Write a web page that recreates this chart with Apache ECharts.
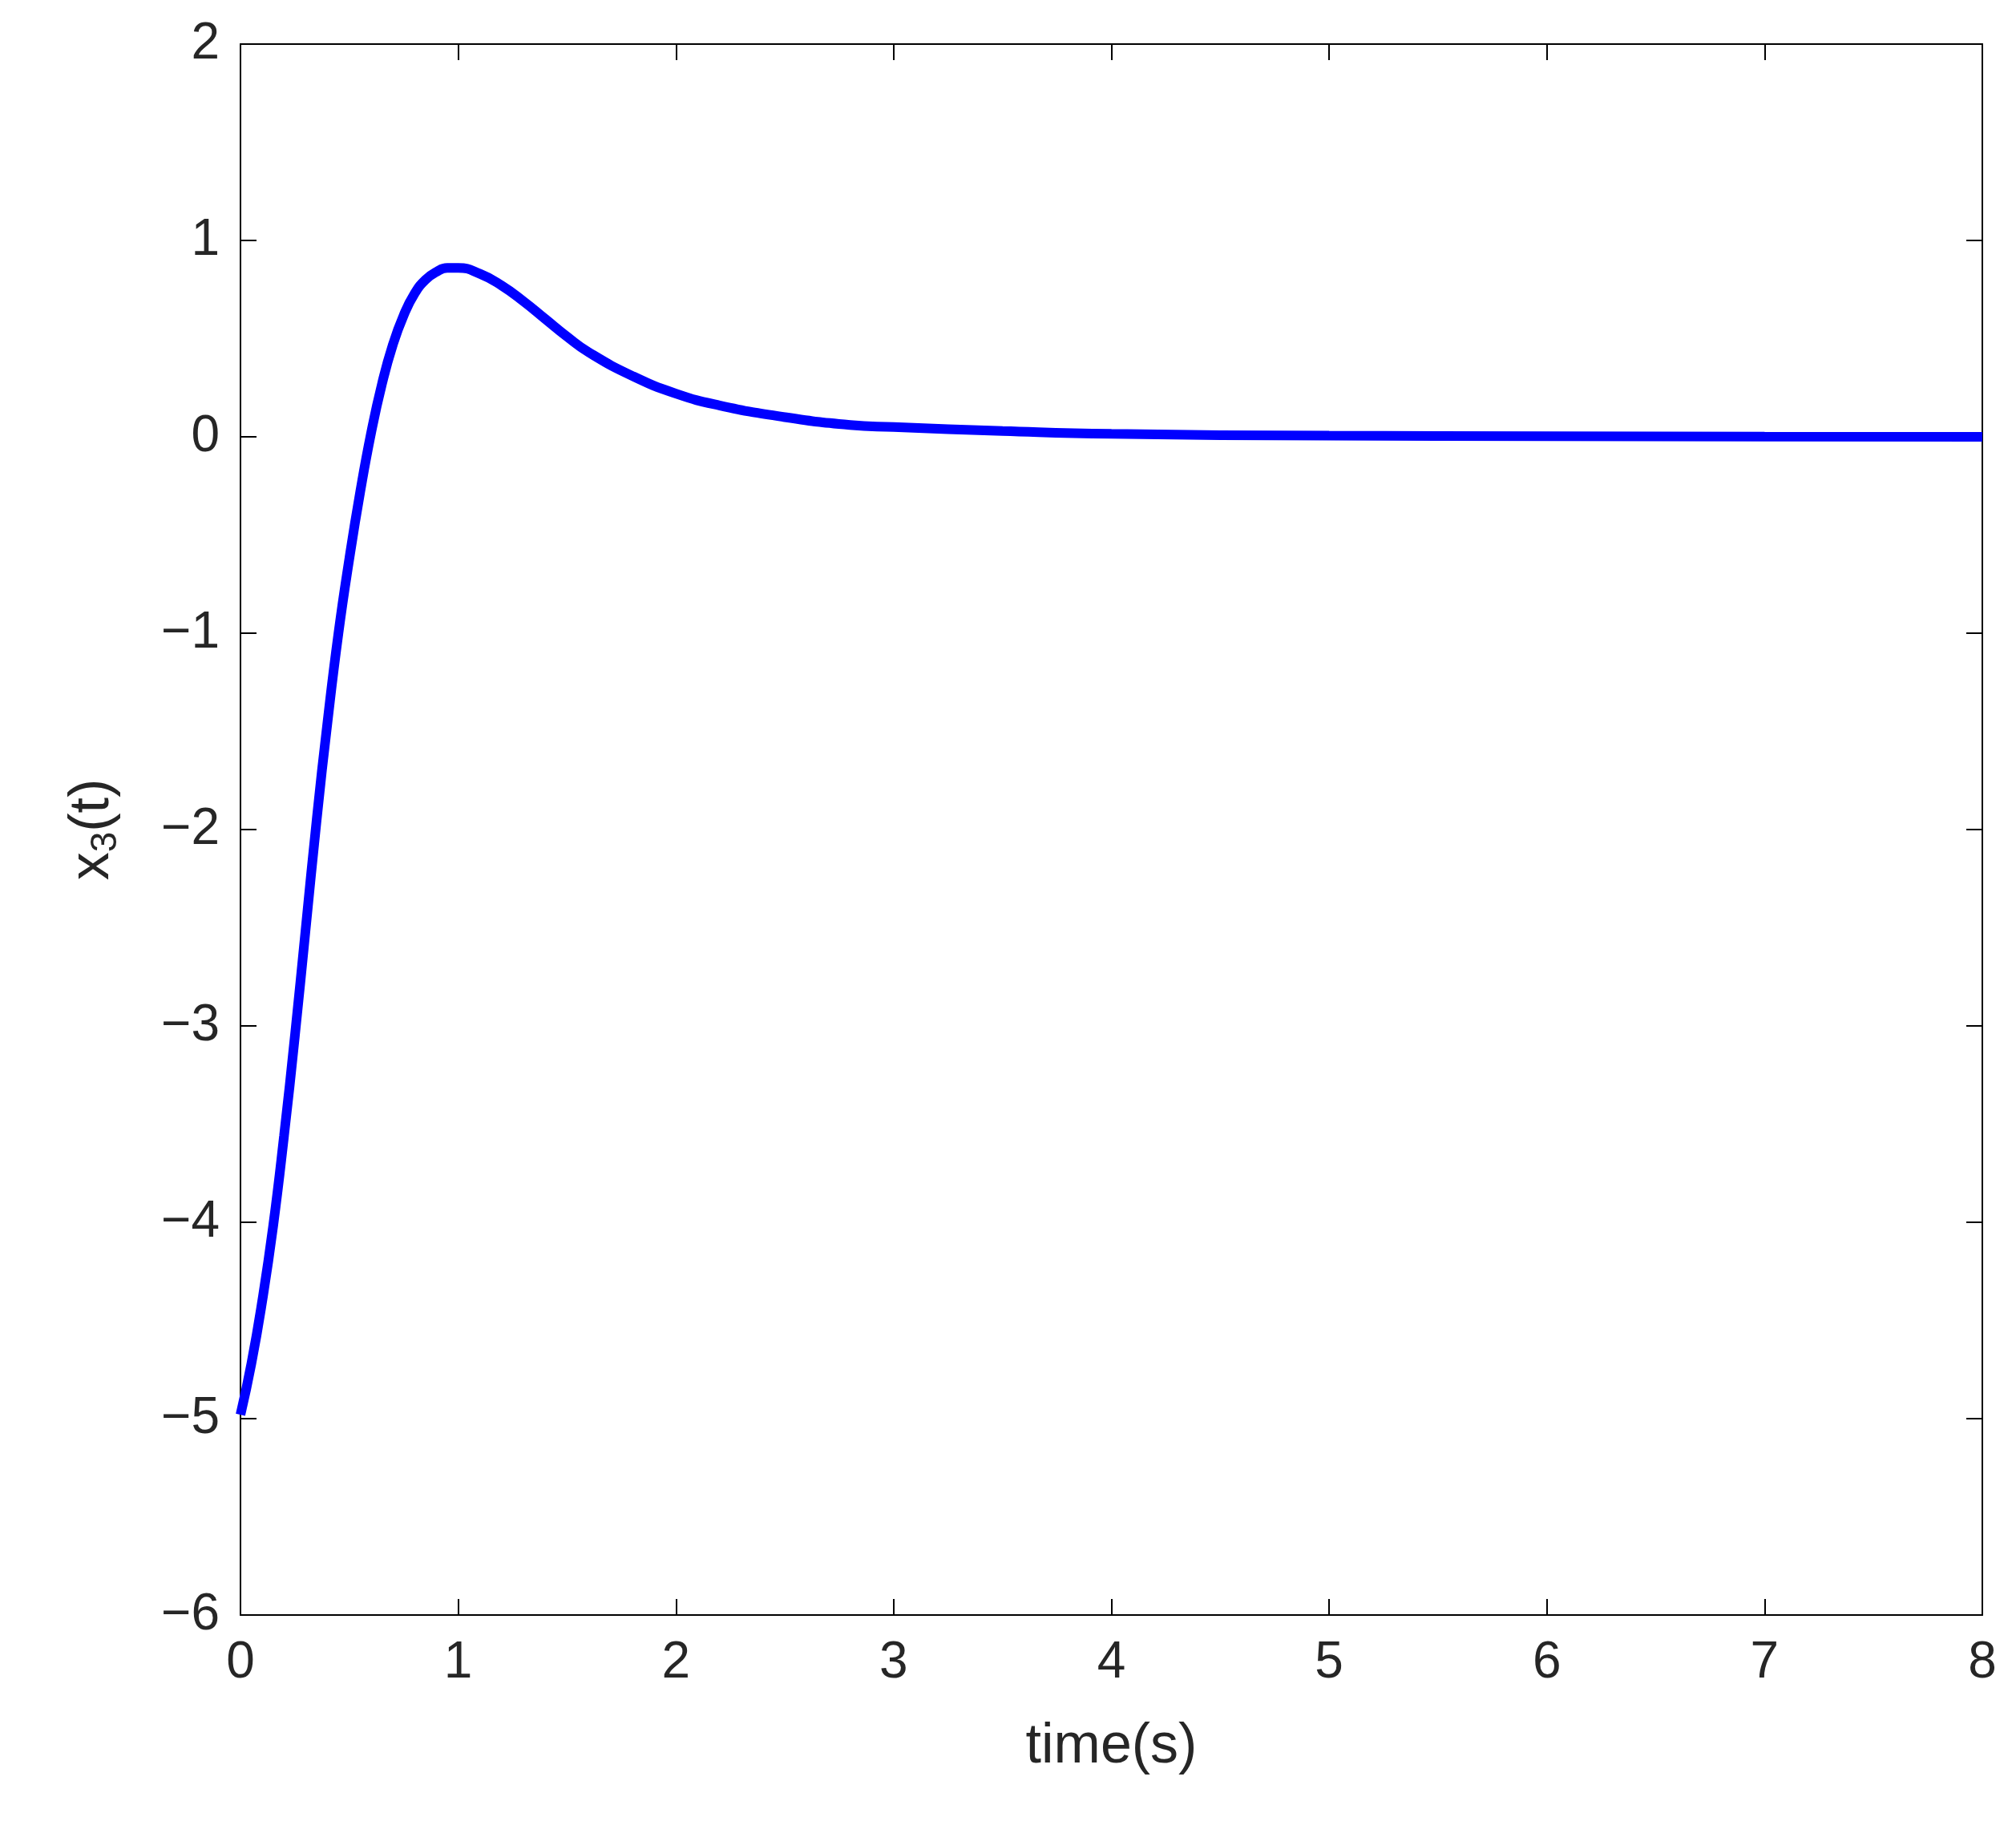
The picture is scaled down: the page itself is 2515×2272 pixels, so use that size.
<!DOCTYPE html>
<html lang="en">
<head>
<meta charset="UTF-8">
<title>x3(t)</title>
<script src="https://cdn.jsdelivr.net/npm/echarts@6/dist/echarts.min.js"></script>
<style>html,body{margin:0;padding:0;background:#fff;}</style>
</head>
<body>
<div id="main" style="width:2515px;height:2272px;"></div>
<script>
// time (s) and x3(t)
var timeList = [0,0.05,0.1,0.15,0.2,0.25,0.3,0.35,0.4,0.45,0.5,0.55,0.6,0.65,0.7,0.75,0.8,0.85,0.9,0.95,1.0,1.1,1.2,1.3,1.4,1.5,1.6,1.8,2.0,2.2,2.5,2.8,3,3.5,4,5,6,7,8];
var x3List = [-4.98,-4.72,-4.4,-4.02,-3.56,-3.05,-2.5,-1.95,-1.45,-1.0,-0.62,-0.28,0.02,0.27,0.47,0.62,0.73,0.8,0.84,0.86,0.86,0.83,0.77,0.69,0.6,0.51,0.43,0.31,0.22,0.16,0.1,0.06,0.05,0.03,0.015,0.006,0.003,0.001,0];

var seriesData = [];
for (var i = 0; i < timeList.length; i++) {
    seriesData.push([timeList[i], x3List[i]]);
}

var txt = '#262626';
var lineStyle = {color: '#000', width: 2};
var tick = {inside: true, length: 20, lineStyle: lineStyle};
var myChart = echarts.init(document.getElementById('main'));
var option = {
    backgroundColor: '#fff',
    animation: false,
    grid: {left: 300, right: 42, top: 55, bottom: 257},
    xAxis: [{
        type: 'value', min: 0, max: 8, interval: 1,
        name: 'time(s)', nameLocation: 'middle', nameGap: 130,
        nameTextStyle: {fontSize: 70, color: txt, fontFamily: 'Arial'},
        axisLine: {onZero: false, lineStyle: lineStyle},
        axisTick: tick,
        axisLabel: {fontSize: 64, color: txt, margin: 28, fontFamily: 'Arial'},
        splitLine: {show: false}
    }, {
        type: 'value', min: 0, max: 8, interval: 1, position: 'top',
        axisLine: {show: true, onZero: false, lineStyle: lineStyle},
        axisTick: {show: true, inside: true, length: 20, lineStyle: lineStyle},
        axisLabel: {show: false}, splitLine: {show: false}
    }],
    yAxis: [{
        type: 'value', min: -6, max: 2, interval: 1,
        name: '{a|x}{s|3}{a|(t)}', nameLocation: 'middle', nameGap: 145,
        nameTextStyle: {
            rich: {
                a: {fontSize: 70, color: txt, fontFamily: 'Arial'},
                s: {fontSize: 46, color: txt, fontFamily: 'Arial', verticalAlign: 'bottom', padding: [32, 0, 0, 0]}
            }
        },
        axisLine: {onZero: false, lineStyle: lineStyle},
        axisTick: tick,
        axisLabel: {
            fontSize: 64, color: txt, margin: 26, fontFamily: 'Arial',
            formatter: function (v) { return v < 0 ? '\u2212' + (-v) : String(v); }
        },
        splitLine: {show: false}
    }, {
        type: 'value', min: -6, max: 2, interval: 1, position: 'right',
        axisLine: {show: true, onZero: false, lineStyle: lineStyle},
        axisTick: {show: true, inside: true, length: 20, lineStyle: lineStyle},
        axisLabel: {show: false}, splitLine: {show: false}
    }],
    series: [{
        type: 'line',
        data: seriesData,
        smooth: true,
        showSymbol: false,
        lineStyle: {color: '#0000ff', width: 12}
    }]
};
myChart.setOption(option);
</script>
</body>
</html>
